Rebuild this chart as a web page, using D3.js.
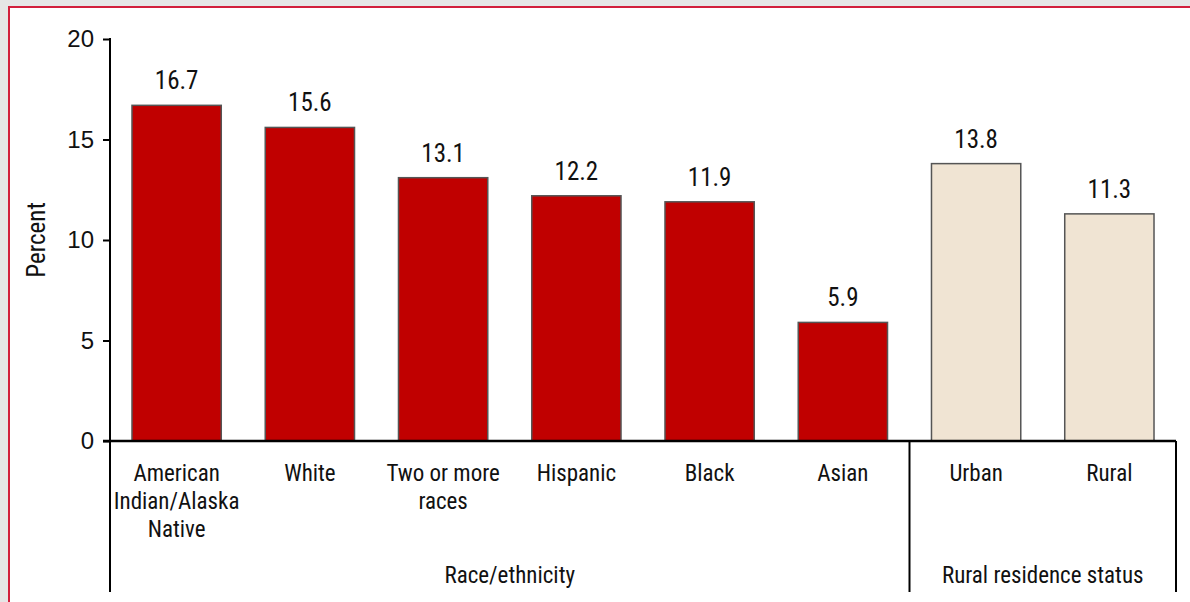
<!DOCTYPE html>
<html>
<head>
<meta charset="utf-8">
<script src="https://cdn.jsdelivr.net/npm/d3@7"></script>
<style>
    body { margin: 0; background: #e6e6e6; overflow: hidden; }
    #chart { position: absolute; left: 8px; top: 6px; width: 1200px; height: 610px;
             background: #fff; border-left: 2px solid #d21f3c; border-top: 2px solid #d21f3c; }
    svg { position: absolute; left: 0; top: 0; }
    text { font-family: "Liberation Sans Narrow", "Arial Narrow", "Roboto Condensed", sans-serif; fill: #111; }
</style>
</head>
<body>
<div id="chart"></div>
<script>
// Chart data
const categories = ["American Indian/Alaska Native", "White", "Two or more races", "Hispanic", "Black", "Asian", "Urban", "Rural"];
const categoryLines = [["American", "Indian/Alaska", "Native"], ["White"], ["Two or more", "races"], ["Hispanic"], ["Black"], ["Asian"], ["Urban"], ["Rural"]];
const values = [16.7, 15.6, 13.1, 12.2, 11.9, 5.9, 13.8, 11.3];
const groups = ["Race/ethnicity", "Race/ethnicity", "Race/ethnicity", "Race/ethnicity", "Race/ethnicity", "Race/ethnicity", "Rural residence status", "Rural residence status"];
const groupNames = ["Race/ethnicity", "Rural residence status"];
const yTicks = [0, 5, 10, 15, 20];

document.addEventListener("DOMContentLoaded", function () {
    var w = 1190, h = 602;
    // svg is placed in the panel, so shift coordinates back to page space
    var svg = d3.select("#chart")
        .append("svg")
        .attr("width", w)
        .attr("height", h)
        .style("left", "-10px")
        .style("top", "-8px");

    var x = d3.scaleBand()
        .domain(categories)
        .range([110, 1176])
        .paddingInner(0.33)
        .paddingOuter(0.165);

    var y = d3.scaleLinear()
        .domain([0, 20])
        .range([441, 39]);

    var colour = d3.scaleOrdinal()
        .domain(groupNames)
        .range(["#c00000", "#f0e4d3"]);

    // Bars
    svg.selectAll("rect.bar")
        .data(values)
        .enter()
        .append("rect")
        .attr("class", "bar")
        .attr("x", (d, i) => x(categories[i]))
        .attr("y", d => y(d))
        .attr("width", x.bandwidth())
        .attr("height", d => y(0) - y(d))
        .attr("fill", (d, i) => colour(groups[i]))
        .attr("stroke", "#555")
        .attr("stroke-width", 1.5);

    // Value labels
    svg.selectAll("text.val")
        .data(values)
        .enter()
        .append("text")
        .attr("class", "val")
        .attr("x", (d, i) => x(categories[i]) + x.bandwidth() / 2)
        .attr("y", d => y(d) - 16)
        .attr("text-anchor", "middle")
        .attr("font-size", "25px")
        .text(d => d.toFixed(1));

    // Y axis
    var yAxis = d3.axisLeft(y)
        .tickValues(yTicks)
        .tickSize(7)
        .tickPadding(9)
        .tickFormat(d3.format("d"));
    var gy = svg.append("g")
        .attr("transform", "translate(110,0)")
        .call(yAxis);
    gy.select(".domain").remove();
    gy.selectAll(".tick line").attr("stroke", "#000").attr("stroke-width", 2);
    gy.selectAll(".tick text").attr("font-size", "24px").attr("fill", "#111")
        .style("font-family", "'Liberation Sans Narrow', 'Arial Narrow', sans-serif");
    svg.append("line")
        .attr("x1", 110).attr("x2", 110)
        .attr("y1", y(20) - 1).attr("y2", 592)
        .attr("stroke", "#000").attr("stroke-width", 2);

    // Y title
    svg.append("text")
        .attr("transform", "translate(45," + y(10) + ") rotate(-90)")
        .attr("text-anchor", "middle")
        .attr("font-size", "25px")
        .text("Percent");

    // X axis line and group frames
    svg.append("line")
        .attr("x1", 103).attr("x2", 1176)
        .attr("y1", y(0)).attr("y2", y(0))
        .attr("stroke", "#000").attr("stroke-width", 2.5);

    var groupEdges = groupNames.map(function (g) {
        var members = categories.filter((c, i) => groups[i] === g);
        var first = x(members[0]) - x.step() * x.paddingInner() / 2;
        var last = x(members[members.length - 1]) + x.bandwidth() + x.step() * x.paddingInner() / 2;
        return { name: g, x0: first, x1: last };
    });
    groupEdges[0].x0 = 110;
    groupEdges[groupEdges.length - 1].x1 = 1176;

    svg.selectAll("line.sep")
        .data(groupEdges)
        .enter()
        .append("line")
        .attr("class", "sep")
        .attr("x1", d => d.x1).attr("x2", d => d.x1)
        .attr("y1", y(0)).attr("y2", 592)
        .attr("stroke", "#000").attr("stroke-width", 2);

    svg.selectAll("text.grp")
        .data(groupEdges)
        .enter()
        .append("text")
        .attr("class", "grp")
        .attr("x", d => (d.x0 + d.x1) / 2)
        .attr("y", 583)
        .attr("text-anchor", "middle")
        .attr("font-size", "23px")
        .text(d => d.name);

    // Category labels
    var labels = svg.selectAll("text.cat")
        .data(categoryLines)
        .enter()
        .append("text")
        .attr("class", "cat")
        .attr("x", (d, i) => x(categories[i]) + x.bandwidth() / 2)
        .attr("y", 481)
        .attr("text-anchor", "middle")
        .attr("font-size", "23px");
    labels.selectAll("tspan")
        .data(d => d)
        .enter()
        .append("tspan")
        .attr("x", function () { return d3.select(this.parentNode).attr("x"); })
        .attr("dy", (d, i) => i === 0 ? 0 : 28)
        .text(d => d);
});
</script>
</body>
</html>
